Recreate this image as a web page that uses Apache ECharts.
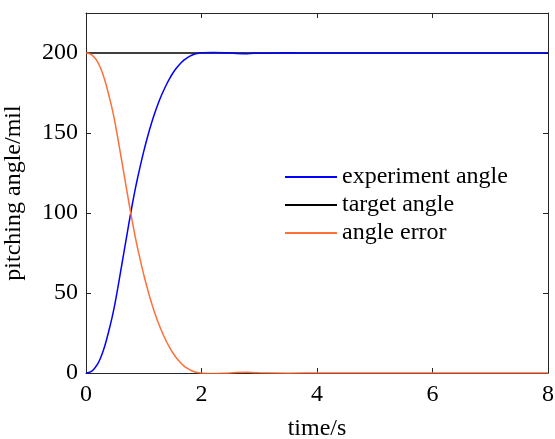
<!DOCTYPE html>
<html>
<head>
<meta charset="utf-8">
<script src="https://cdn.jsdelivr.net/npm/echarts@6/dist/echarts.min.js"></script>
<style>
  html, body { margin: 0; padding: 0; background: #fff; }
  #chart { width: 555px; height: 439px; }
</style>
</head>
<body>
<div id="chart"></div>
<script>
// time samples (s)
const timeS = [
  0, 0.05, 0.1, 0.15, 0.2, 0.25, 0.3, 0.35, 0.4, 0.45, 0.5, 0.55, 0.6, 0.65, 0.7, 0.75, 0.8, 0.85, 0.9, 0.95,
  1.0, 1.05, 1.1, 1.15, 1.2, 1.25, 1.3, 1.35, 1.4, 1.45, 1.5, 1.55, 1.6, 1.65, 1.7, 1.75, 1.8, 1.85, 1.9, 1.95,
  2.0, 2.2, 2.4, 2.6, 2.8, 3.0, 3.5, 4, 5, 6, 7, 8
];
// measured pitching angle (mil)
const experimentAngle = [
  0, 0.3, 1.2, 3, 5.5, 9.2, 14, 20, 27, 34.5, 43, 53, 63.5, 74, 84.5, 95, 105, 114.5, 123, 131,
  138.5, 145.5, 152, 158, 163.5, 168.5, 173, 177, 180.8, 184.2, 187.2, 189.8, 192, 194, 195.7, 197, 198.1, 198.9, 199.5, 199.9,
  200.1, 200.3, 200.2, 199.7, 199.6, 199.9, 200.1, 200, 200, 200, 200, 200
];
// commanded angle (mil)
const targetAngle = [
  200, 200, 200, 200, 200, 200, 200, 200, 200, 200, 200, 200, 200, 200, 200, 200, 200, 200, 200, 200,
  200, 200, 200, 200, 200, 200, 200, 200, 200, 200, 200, 200, 200, 200, 200, 200, 200, 200, 200, 200,
  200, 200, 200, 200, 200, 200, 200, 200, 200, 200, 200, 200
];
// tracking error (mil)
const angleError = [
  200, 199.7, 198.8, 197, 194.5, 190.8, 186, 180, 173, 165.5, 157, 147, 136.5, 126, 115.5, 105, 95, 85.5, 77, 69,
  61.5, 54.5, 48, 42, 36.5, 31.5, 27, 23, 19.2, 15.8, 12.8, 10.2, 8, 6, 4.3, 3, 1.9, 1.1, 0.5, 0.1,
  -0.1, -0.3, -0.2, 0.3, 0.4, 0.1, -0.1, 0, 0, 0, 0, 0
];
const xTicks = { min: 0, max: 8, interval: 2 };
const yTicks = { min: 0, max: 225, interval: 50 };

const pairs = (ys) => timeS.map((t, i) => [t, ys[i]]);

const FONT = 'Liberation Serif';
const AXIS_COLOR = '#262626';

const axisLineStyle = { show: true, onZero: false, lineStyle: { color: AXIS_COLOR, width: 1 } };
const tickStyle = { show: true, inside: true, length: 5, lineStyle: { color: AXIS_COLOR, width: 1 } };

const chart = echarts.init(document.getElementById('chart'), null, { renderer: 'canvas' });

chart.setOption({
  animation: false,
  backgroundColor: '#ffffff',
  grid: { left: 86, right: 7, top: 13, bottom: 66, containLabel: false, outerBoundsMode: 'none' },
  legend: {
    orient: 'vertical',
    left: 280,
    top: 160,
    itemWidth: 52,
    itemHeight: 2,
    itemGap: 4,
    icon: 'rect',
    textStyle: { fontFamily: FONT, fontSize: 24, color: '#000' },
    data: ['experiment angle', 'target angle', 'angle error']
  },
  xAxis: [
    {
      type: 'value', position: 'bottom',
      min: xTicks.min, max: xTicks.max, interval: xTicks.interval,
      name: 'time/s', nameLocation: 'middle', nameGap: 44,
      nameTextStyle: { fontFamily: FONT, fontSize: 24, color: '#000' },
      axisLine: axisLineStyle, axisTick: tickStyle,
      axisLabel: { fontFamily: FONT, fontSize: 24, color: '#000', margin: 10 },
      splitLine: { show: false }
    },
    {
      type: 'value', position: 'top',
      min: xTicks.min, max: xTicks.max, interval: xTicks.interval,
      axisLine: axisLineStyle, axisTick: tickStyle,
      axisLabel: { show: false }, splitLine: { show: false }
    }
  ],
  yAxis: [
    {
      type: 'value', position: 'left',
      min: yTicks.min, max: yTicks.max, interval: yTicks.interval,
      name: 'pitching angle/mil', nameLocation: 'middle', nameGap: 60,
      nameTextStyle: { fontFamily: FONT, fontSize: 24, color: '#000' },
      axisLine: axisLineStyle, axisTick: tickStyle,
      axisLabel: { fontFamily: FONT, fontSize: 24, color: '#000', margin: 8, showMaxLabel: false },
      splitLine: { show: false }
    },
    {
      type: 'value', position: 'right',
      min: yTicks.min, max: yTicks.max, interval: yTicks.interval,
      axisLine: axisLineStyle, axisTick: tickStyle,
      axisLabel: { show: false }, splitLine: { show: false }
    }
  ],
  series: [
    {
      name: 'target angle', type: 'line', data: pairs(targetAngle),
      showSymbol: false, symbol: 'none',
      lineStyle: { color: '#000000', width: 1.5 }, itemStyle: { color: '#000000' }, z: 1
    },
    {
      name: 'experiment angle', type: 'line', data: pairs(experimentAngle),
      showSymbol: false, symbol: 'none', smooth: 0.2,
      lineStyle: { color: '#0000FF', width: 1.5 }, itemStyle: { color: '#0000FF' }, z: 2
    },
    {
      name: 'angle error', type: 'line', data: pairs(angleError),
      showSymbol: false, symbol: 'none', smooth: 0.2,
      lineStyle: { color: '#FF6F3A', width: 1.5 }, itemStyle: { color: '#FF6F3A' }, z: 3
    }
  ]
});
</script>
</body>
</html>
